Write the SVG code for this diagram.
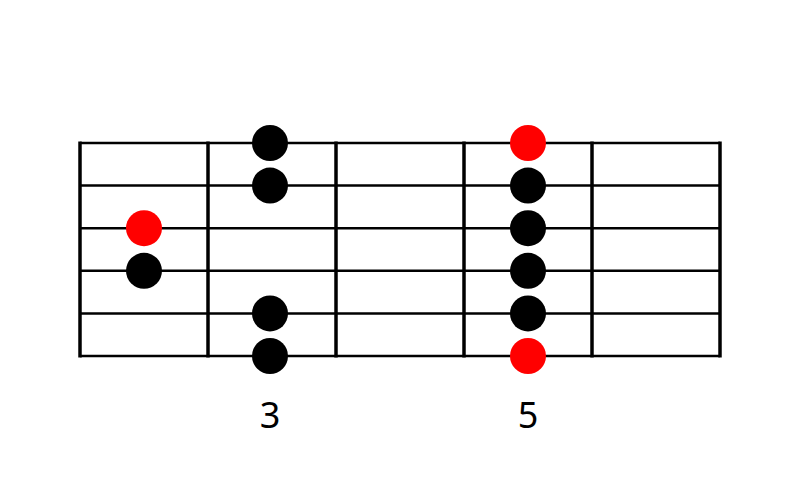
<svg xmlns="http://www.w3.org/2000/svg" width="800" height="500" viewBox="0 0 800 500">
<style>
.str{stroke:#000;stroke-width:2.5;}
.fret{stroke:#000;stroke-width:3.5;}
.dot{fill:#000;}
.root{fill:#ff0000;}
.lbl{font-family:"Noto Sans","DejaVu Sans",sans-serif;font-size:36px;fill:#000;text-anchor:middle;}
</style>
<rect width="800" height="500" fill="#fff"/>
<g id="fretboard">
<line class="str" x1="80" y1="143" x2="720" y2="143"/>
<line class="str" x1="80" y1="185.6" x2="720" y2="185.6"/>
<line class="str" x1="80" y1="228.2" x2="720" y2="228.2"/>
<line class="str" x1="80" y1="270.8" x2="720" y2="270.8"/>
<line class="str" x1="80" y1="313.4" x2="720" y2="313.4"/>
<line class="str" x1="80" y1="356" x2="720" y2="356"/>
<line class="fret" x1="80" y1="141.5" x2="80" y2="357.5"/>
<line class="fret" x1="208" y1="141.5" x2="208" y2="357.5"/>
<line class="fret" x1="336" y1="141.5" x2="336" y2="357.5"/>
<line class="fret" x1="464" y1="141.5" x2="464" y2="357.5"/>
<line class="fret" x1="592" y1="141.5" x2="592" y2="357.5"/>
<line class="fret" x1="720" y1="141.5" x2="720" y2="357.5"/>
</g>
<g id="dots">
<circle class="root" cx="144" cy="228.2" r="18"/>
<circle class="dot" cx="144" cy="270.8" r="18"/>
<circle class="dot" cx="270" cy="143" r="18"/>
<circle class="dot" cx="270" cy="185.6" r="18"/>
<circle class="dot" cx="270" cy="313.4" r="18"/>
<circle class="dot" cx="270" cy="356" r="18"/>
<circle class="root" cx="528" cy="143" r="18"/>
<circle class="dot" cx="528" cy="185.6" r="18"/>
<circle class="dot" cx="528" cy="228.2" r="18"/>
<circle class="dot" cx="528" cy="270.8" r="18"/>
<circle class="dot" cx="528" cy="313.4" r="18"/>
<circle class="root" cx="528" cy="356" r="18"/>
</g>
<g id="labels">
<text class="lbl" x="270" y="428">3</text>
<text class="lbl" x="528" y="428">5</text>
</g>
</svg>
